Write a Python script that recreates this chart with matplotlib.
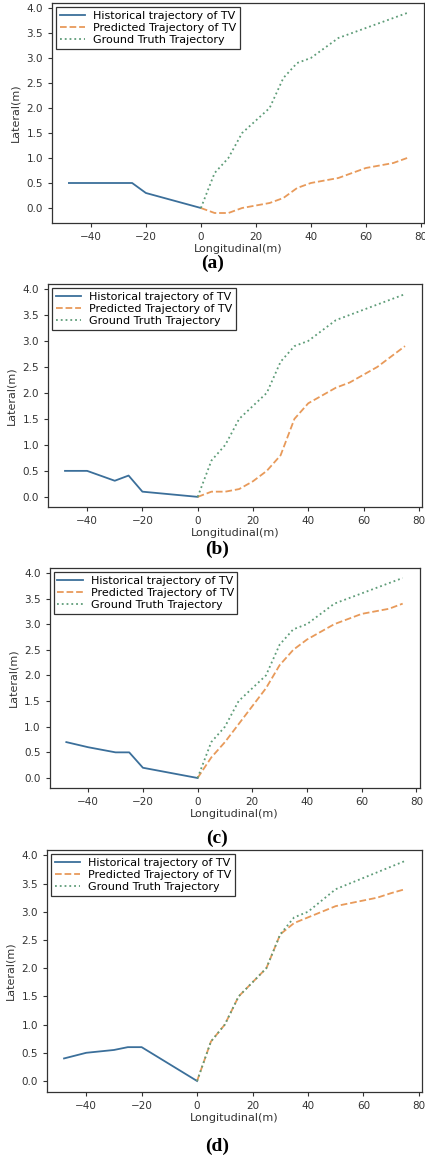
import matplotlib
matplotlib.use("Agg")
import matplotlib.pyplot as plt

# ---- data ----
gt_x = [0, 5, 10, 15, 20, 25, 30, 35, 40, 45, 50, 55, 60, 65, 70, 75]
gt_y = [0.0, 0.7, 1.0, 1.5, 1.75, 2.0, 2.6, 2.9, 3.0, 3.2, 3.4, 3.5, 3.6, 3.7, 3.8, 3.9]

hist_x = [-48, -40, -30, -25, -20, -10, 0]
hist_a = [0.5, 0.5, 0.5, 0.5, 0.3, 0.15, 0.0]
hist_b = [0.5, 0.5, 0.31, 0.41, 0.1, 0.05, 0.0]
hist_c = [0.7, 0.6, 0.5, 0.5, 0.2, 0.1, 0.0]
hist_d = [0.4, 0.5, 0.55, 0.6, 0.6, 0.3, 0.0]

pred_x = [0, 5, 10, 15, 20, 25, 30, 35, 40, 45, 50, 55, 60, 65, 70, 75]
pred_a = [0.0, -0.1, -0.1, 0.0, 0.05, 0.1, 0.2, 0.4, 0.5, 0.55, 0.6, 0.7, 0.8, 0.85, 0.9, 1.0]
pred_b = [0.0, 0.1, 0.1, 0.15, 0.3, 0.5, 0.8, 1.5, 1.8, 1.95, 2.1, 2.2, 2.35, 2.5, 2.7, 2.9]
pred_c = [0.0, 0.4, 0.7, 1.05, 1.4, 1.75, 2.2, 2.5, 2.7, 2.85, 3.0, 3.1, 3.2, 3.25, 3.3, 3.4]
pred_d = [0.0, 0.7, 1.0, 1.5, 1.75, 2.0, 2.6, 2.8, 2.9, 3.0, 3.1, 3.15, 3.2, 3.25, 3.33, 3.4]

panel_labels = ["(a)", "(b)", "(c)", "(d)"]
legend_labels = ["Historical trajectory of TV", "Predicted Trajectory of TV", "Ground Truth Trajectory"]
xlabel = "Longitudinal(m)"
ylabel = "Lateral(m)"

hists = [hist_a, hist_b, hist_c, hist_d]
preds = [pred_a, pred_b, pred_c, pred_d]

# ---- layout (pixels) ----
W, H = 425, 1159
boxes = [  # left, right, top, bottom
    (52, 424, 3, 223),
    (48, 422, 284, 507),
    (49.5, 419.5, 568, 788),
    (47, 422, 850, 1092),
]
label_pos = [(213, 263), (217, 549), (217, 838), (217, 1146)]

c_hist = "#3b6f9a"
c_pred = "#e89a5a"
c_gt = "#5e9c78"

fig = plt.figure(figsize=(W / 100, H / 100), dpi=100)
for i, (l, r, t, b) in enumerate(boxes):
    ax = fig.add_axes([l / W, 1 - b / H, (r - l) / W, (b - t) / H])
    ax.plot(hist_x, hists[i], color=c_hist, lw=1.3, label=legend_labels[0])
    ax.plot(pred_x, preds[i], color=c_pred, lw=1.3, ls="--", label=legend_labels[1])
    ax.plot(gt_x, gt_y, color=c_gt, lw=1.3, ls=":", label=legend_labels[2])
    ax.set_xticks([-40, -20, 0, 20, 40, 60, 80])
    ax.set_yticks([0.0, 0.5, 1.0, 1.5, 2.0, 2.5, 3.0, 3.5, 4.0])
    ax.tick_params(labelsize=7.5, width=0.8, length=3, colors="#333333")
    for s in ax.spines.values():
        s.set_color("#333333")
        s.set_linewidth(0.9)
    ax.set_xlabel(xlabel, fontsize=8, color="#333333", labelpad=1.5)
    ax.set_ylabel(ylabel, fontsize=8, color="#333333", labelpad=4)
    leg = ax.legend(loc="upper left", fontsize=8, handlelength=2.3,
                    labelspacing=0.2, borderpad=0.3, borderaxespad=0.4,
                    handletextpad=0.7, fancybox=False, framealpha=1)
    leg.get_frame().set_edgecolor("#333333")
    leg.get_frame().set_linewidth(0.9)
    lx, ly = label_pos[i]
    fig.text(lx / W, 1 - ly / H, panel_labels[i], ha="center", va="center",
             fontsize=14, fontweight="bold", family="Liberation Serif")

fig.savefig("out.png", dpi=100)
